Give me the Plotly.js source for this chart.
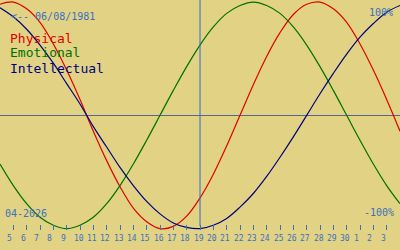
<!DOCTYPE html>
<html><head><meta charset="utf-8">
<script src="https://cdn.plot.ly/plotly-3.0.1.min.js"></script>
<style>html,body{margin:0;padding:0;background:#e1d383;}#c{width:400px;height:250px;}</style>
</head><body><div id="c"></div>
<script>
// Dates (April 4 – May 4, 2026)
const dates = ['2026-04-04','2026-04-05','2026-04-06','2026-04-07','2026-04-08','2026-04-09','2026-04-10','2026-04-11','2026-04-12','2026-04-13','2026-04-14','2026-04-15','2026-04-16','2026-04-17','2026-04-18','2026-04-19','2026-04-20','2026-04-21','2026-04-22','2026-04-23','2026-04-24','2026-04-25','2026-04-26','2026-04-27','2026-04-28','2026-04-29','2026-04-30','2026-05-01','2026-05-02','2026-05-03','2026-05-04'];
const physical = [0.98,1.00,0.94,0.82,0.63,0.40,0.14,-0.14,-0.40,-0.63,-0.82,-0.94,-1.00,-0.98,-0.89,-0.73,-0.52,-0.27,0.00,0.27,0.52,0.73,0.89,0.98,1.00,0.94,0.82,0.63,0.40,0.14,-0.14];
const emotional = [-0.43,-0.62,-0.78,-0.90,-0.97,-1.00,-0.97,-0.90,-0.78,-0.62,-0.43,-0.22,0.00,0.22,0.43,0.62,0.78,0.90,0.97,1.00,0.97,0.90,0.78,0.62,0.43,0.22,0.00,-0.22,-0.43,-0.62,-0.78];
const intellectual = [0.95,0.87,0.76,0.62,0.46,0.28,0.10,-0.10,-0.28,-0.46,-0.62,-0.76,-0.87,-0.95,-0.99,-1.00,-0.97,-0.91,-0.81,-0.69,-0.54,-0.37,-0.19,0.00,0.19,0.37,0.54,0.69,0.81,0.91,0.97];
const tickDates = dates.slice(1, 30);
const dayLabels = ['5','6','7','8','9','10','11','12','13','14','15','16','17','18','19','20','21','22','23','24','25','26','27','28','29','30','1','2','3'];
const today = '2026-04-19';
const birthLabel = '&lt;-- 06/08/1981';
const monthLabel = '04-2026';
const seriesNames = ['Physical','Emotional','Intellectual'];
const seriesColors = ['#e00000','#007000','#000080'];

const BG = '#e1d383';
const BLUE = '#3b6fc4';
const MONO = 'DejaVu Sans Mono, monospace';

const traces = [physical, emotional, intellectual].map((ys, i) => ({
  x: dates, y: ys, type: 'scatter', mode: 'lines',
  line: {color: seriesColors[i], width: 1.2, shape: 'spline'},
  hoverinfo: 'skip', showlegend: false
}));

const annotations = [];
tickDates.forEach((d, i) => annotations.push({
  x: d, xref: 'x', y: 0.048, yref: 'paper', text: dayLabels[i], showarrow: false,
  xanchor: 'center', yanchor: 'middle', xshift: dayLabels[i].length === 1 ? -3.5 : -1.5,
  font: {family: MONO, size: 8, color: BLUE}
}));
seriesNames.forEach((n, i) => annotations.push({
  x: 8/400, xref: 'paper', y: (250 - (38 + 15*i))/250, yref: 'paper', text: n, showarrow: false,
  xanchor: 'left', yanchor: 'middle', font: {family: MONO, size: 13, color: seriesColors[i]}
}));
annotations.push({x: 9/400, xref: 'paper', y: (250-17)/250, yref: 'paper', text: birthLabel, showarrow: false,
  xanchor: 'left', yanchor: 'middle', font: {family: MONO, size: 10, color: BLUE}});
annotations.push({x: 3/400, xref: 'paper', y: (250-213)/250, yref: 'paper', text: monthLabel, showarrow: false,
  xanchor: 'left', yanchor: 'middle', font: {family: MONO, size: 10, color: BLUE}});
annotations.push({x: 396/400, xref: 'paper', y: (250-212)/250, yref: 'paper', text: '-100%', showarrow: false,
  xanchor: 'right', yanchor: 'middle', font: {family: MONO, size: 10, color: BLUE}});
annotations.push({x: 395/400, xref: 'paper', y: (250-12)/250, yref: 'paper', text: '100%', showarrow: false,
  xanchor: 'right', yanchor: 'middle', font: {family: MONO, size: 10, color: BLUE}});

const layout = {
  width: 400, height: 250,
  margin: {l: 0, r: 0, t: 0, b: 0, pad: 0},
  paper_bgcolor: BG, plot_bgcolor: BG,
  showlegend: false,
  xaxis: {type: 'date', range: [dates[0], dates[dates.length-1]], anchor: 'free', position: 0.08,
    showgrid: false, zeroline: false, showline: false,
    ticks: 'inside', ticklen: 5, tickwidth: 1, tickcolor: BLUE,
    tickvals: tickDates, showticklabels: false, fixedrange: true},
  yaxis: {range: [-1.189, 1.018], showgrid: false, showticklabels: false, ticks: '',
    zeroline: true, zerolinecolor: '#52688f', zerolinewidth: 1, showline: false, fixedrange: true},
  shapes: [{type: 'line', xref: 'x', x0: today, x1: today, yref: 'paper', y0: 0.096, y1: 1,
    line: {color: '#2f68d0', width: 1}}],
  annotations: annotations
};
Plotly.newPlot('c', traces, layout, {displayModeBar: false, staticPlot: true});
</script></body></html>
